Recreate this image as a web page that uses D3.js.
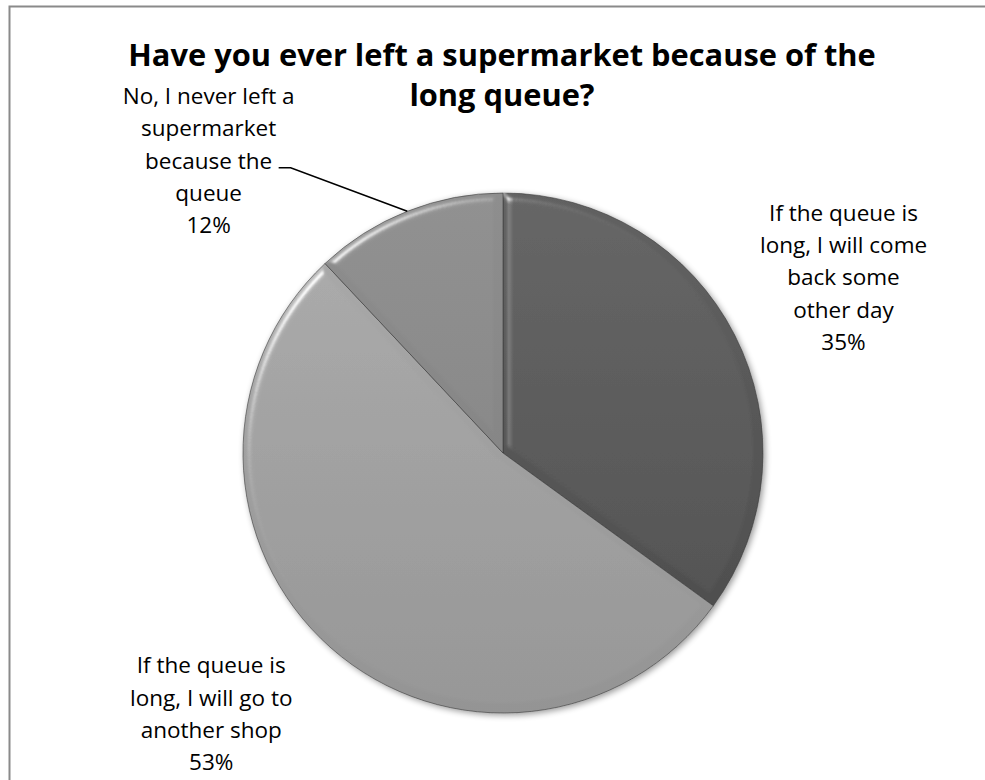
<!DOCTYPE html>
<html>
<head>
<meta charset="utf-8">
<script src="https://cdn.jsdelivr.net/npm/d3@7"></script>
<style>
  body { margin: 0; background: #fff; }
  svg text { font-family: "Open Sans", Lato, sans-serif; fill: #000; }
</style>
</head>
<body>
<svg id="chart" width="985" height="780"></svg>
<script>
// data
var categories = ["come back", "another shop", "never left"];
var values = [35, 53, 12];
var labelLines = [
    ["If the queue is", "long, I will come", "back some", "other day"],
    ["If the queue is", "long, I will go to", "another shop"],
    ["No, I never left a", "supermarket", "because the", "queue"]
];
var titleLines = ["Have you ever left a supermarket because of the", "long queue?"];

// looks
var sliceTop = ["#626262", "#ababab", "#8e8e8e"];
var sliceBottom = ["#4a4a4a", "#949494", "#7e7e7e"];

var width = 985, height = 780;
var cx = 503, cy = 453, radius = 260;
var lineH = 32.3;

var svg = d3.select("#chart");

// chart frame
svg.append("rect")
    .attr("x", 9.5).attr("y", 6.5)
    .attr("width", 1000).attr("height", 800)
    .attr("fill", "none")
    .attr("stroke", "#8a8a8a")
    .attr("stroke-width", 2);

var defs = svg.append("defs");

categories.forEach(function(c, i) {
    var g = defs.append("linearGradient")
        .attr("id", "grad" + i)
        .attr("gradientUnits", "userSpaceOnUse")
        .attr("x1", 0).attr("y1", -radius)
        .attr("x2", 0).attr("y2", radius);
    g.append("stop").attr("offset", "0%").attr("stop-color", sliceTop[i]);
    g.append("stop").attr("offset", "100%").attr("stop-color", sliceBottom[i]);
});

// soft bevel for the slices
var bevel = defs.append("filter").attr("id", "bevel")
    .attr("x", "-10%").attr("y", "-10%").attr("width", "120%").attr("height", "120%");
bevel.append("feGaussianBlur").attr("in", "SourceAlpha").attr("stdDeviation", 4).attr("result", "blur");
bevel.append("feSpecularLighting")
    .attr("in", "blur").attr("surfaceScale", 5).attr("specularConstant", 0.55)
    .attr("specularExponent", 40).attr("lighting-color", "#ffffff").attr("result", "spec")
    .append("feDistantLight").attr("azimuth", 225).attr("elevation", 40);
bevel.append("feComposite").attr("in", "spec").attr("in2", "SourceAlpha")
    .attr("operator", "in").attr("result", "specIn");
bevel.append("feComposite").attr("in", "SourceGraphic").attr("in2", "specIn")
    .attr("operator", "arithmetic").attr("k1", 0).attr("k2", 1).attr("k3", 1).attr("k4", 0);

var shadow = defs.append("filter").attr("id", "shadow")
    .attr("x", "-10%").attr("y", "-10%").attr("width", "120%").attr("height", "120%");
shadow.append("feGaussianBlur").attr("in", "SourceAlpha").attr("stdDeviation", 3).attr("result", "b");
shadow.append("feOffset").attr("in", "b").attr("dx", 2).attr("dy", 2).attr("result", "o");
shadow.append("feComponentTransfer").attr("in", "o").attr("result", "s")
    .append("feFuncA").attr("type", "linear").attr("slope", 0.4);
var merge = shadow.append("feMerge");
merge.append("feMergeNode").attr("in", "s");
merge.append("feMergeNode").attr("in", "SourceGraphic");

var pie = d3.pie().sort(null).value(function(d) { return d; });
var arcs = pie(values);
var arc = d3.arc().innerRadius(0).outerRadius(radius);

var pieG = svg.append("g")
    .attr("transform", "translate(" + cx + "," + cy + ")")
    .attr("filter", "url(#shadow)");

pieG.selectAll("path.slice")
    .data(arcs)
    .enter().append("path")
    .classed("slice", true)
    .attr("d", arc)
    .attr("fill", function(d, i) { return "url(#grad" + i + ")"; })
    .attr("stroke", "#3a3a3a")
    .attr("stroke-width", 0.6)
    .attr("filter", "url(#bevel)");

// title
svg.append("text")
    .attr("x", 502).attr("y", 66)
    .attr("text-anchor", "middle")
    .style("font-size", "30.8px")
    .style("font-weight", "bold")
    .selectAll("tspan")
    .data(titleLines)
    .enter().append("tspan")
    .attr("x", 502)
    .attr("dy", function(d, i) { return i ? 40 : 0; })
    .text(function(d) { return d; });

// labels: placed around the slices, nudged like the original's best fit
var labelAt = [
    { r: 1.47, angle: null },
    { r: 1.51, angle: 228 },
    { r: 1.59, angle: 314.6 }
];

var labels = svg.append("g");
arcs.forEach(function(d, i) {
    var a = labelAt[i].angle == null ? (d.startAngle + d.endAngle) / 2 : labelAt[i].angle * Math.PI / 180;
    var lr = radius * labelAt[i].r;
    var x = cx + lr * Math.sin(a);
    var y = cy - lr * Math.cos(a);
    var lines = labelLines[i].concat([values[i] + "%"]);
    var top = y - (lines.length - 1) * lineH / 2;
    var t = labels.append("text")
        .attr("text-anchor", "middle")
        .style("font-size", "22.5px");
    t.selectAll("tspan")
        .data(lines)
        .enter().append("tspan")
        .attr("x", x)
        .attr("y", function(l, j) { return top + j * lineH + 6; })
        .text(function(l) { return l; });
    d.labelX = x; d.labelY = y;
});

// leader line for the small slice
var small = arcs[2];
var mid = (small.startAngle + small.endAngle) / 2;
var ex = cx + radius * Math.sin(mid), ey = cy - radius * Math.cos(mid);
var lineY = small.labelY + 5;
svg.append("path")
    .attr("d", "M" + (small.labelX + 70) + "," + lineY + "H" + (small.labelX + 82) + "L" + ex + "," + ey)
    .attr("fill", "none")
    .attr("stroke", "#000")
    .attr("stroke-width", 1.6);
</script>
</body>
</html>
